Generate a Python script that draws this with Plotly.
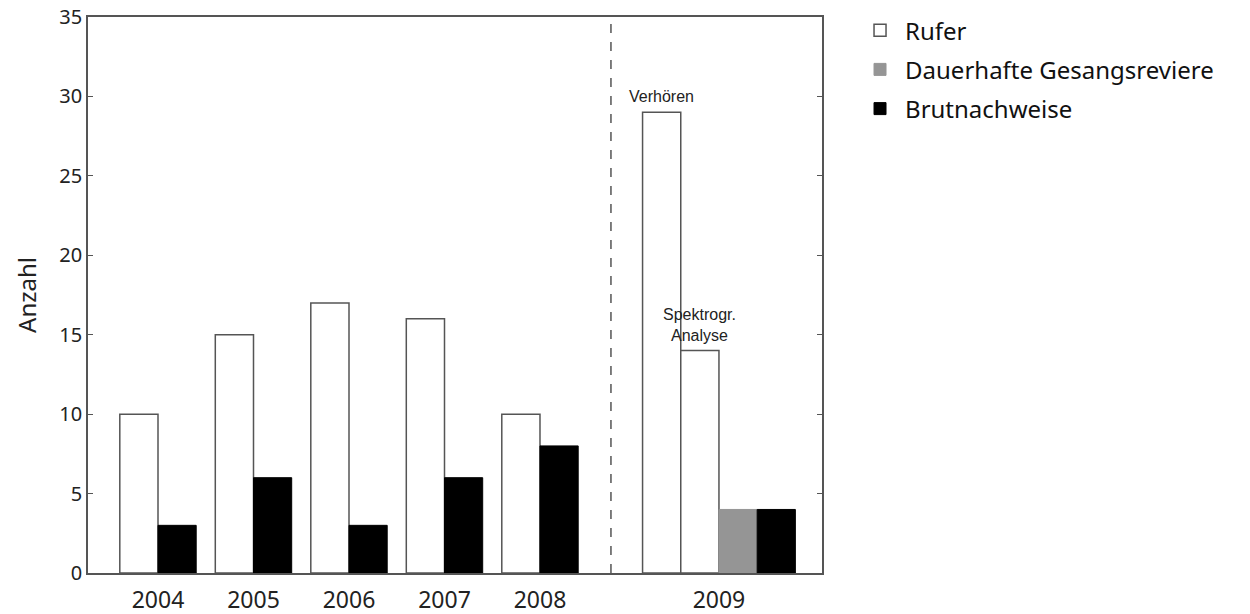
import plotly.graph_objects as go

years = ["2004", "2005", "2006", "2007", "2008", "2009"]
year_pos = [0, 1, 2, 3, 4, 5.874]
rufer = [10, 15, 17, 16, 10]
rufer_2009 = [29, 14]
rufer_2009_labels = ["Verhören", "Spektrogr.<br>Analyse"]
reviere_2009 = [4]
brut = [3, 6, 3, 6, 8, 4]
separator_pos = 4.743

BW = 0.4
edge = "#555555"
font_tick = "Noto Sans"

rufer_x = [p - BW / 2 for p in year_pos[:5]] + [year_pos[5] - 1.5 * BW, year_pos[5] - 0.5 * BW]
rufer_y = rufer + rufer_2009
brut_x = [p + BW / 2 for p in year_pos[:5]] + [year_pos[5] + 1.5 * BW]
rev_x = [year_pos[5] + 0.5 * BW]

fig = go.Figure()
fig.add_bar(x=rufer_x, y=rufer_y, width=BW, name="Rufer",
            marker=dict(color="white", line=dict(color=edge, width=1.5)),
            legendgroup="a")
fig.add_bar(x=rev_x, y=reviere_2009, width=BW, name="Dauerhafte Gesangsreviere",
            marker=dict(color="#959595", line=dict(color="#959595", width=1)),
            legendgroup="b")
fig.add_bar(x=brut_x, y=brut, width=BW, name="Brutnachweise",
            marker=dict(color="black", line=dict(color="black", width=1)),
            legendgroup="c")

fig.add_shape(type="line", xref="x", yref="paper", x0=separator_pos, x1=separator_pos,
              y0=0, y1=1, line=dict(color=edge, width=1.5, dash="dash"))

for xv, yv, txt in zip(rufer_x[5:], rufer_2009, rufer_2009_labels):
    fig.add_annotation(x=xv, y=yv, text=txt, showarrow=False, yanchor="bottom",
                       yshift=5, font=dict(family="Liberation Sans", size=16, color="#222"))

fig.update_layout(
    width=1242, height=606,
    margin=dict(l=80, r=428, t=9, b=41, autoexpand=False),
    plot_bgcolor="white", paper_bgcolor="white",
    barmode="overlay",
    showlegend=True,
    legend=dict(x=1.045, y=1.016, xanchor="left", yanchor="top",
                font=dict(family=font_tick, size=24, color="#111"),
                tracegroupgap=5, traceorder="grouped", itemwidth=40,
                bgcolor="rgba(0,0,0,0)"),
    xaxis=dict(range=[-0.733, 6.953], tickvals=year_pos, ticktext=years,
               showgrid=False, zeroline=False, showline=True, linecolor=edge,
               linewidth=1.5, mirror=True, ticks="", automargin=False,
               ticklabelstandoff=6, ticklabeloverflow="allow",
               tickfont=dict(family=font_tick, size=23, color="#222")),
    yaxis=dict(range=[0, 35], tickvals=[0, 5, 10, 15, 20, 25, 30, 35],
               showgrid=False, zeroline=False, showline=True, linecolor=edge,
               linewidth=1.5, mirror="ticks", ticks="inside", ticklen=5,
               tickcolor=edge, tickwidth=1, automargin=False,
               ticklabeloverflow="allow",
               tickfont=dict(family=font_tick, size=20, color="#222"),
               title=dict(text="Anzahl", font=dict(family=font_tick, size=24, color="#222"),
                          standoff=16)),
)

fig.write_html("out.html")
